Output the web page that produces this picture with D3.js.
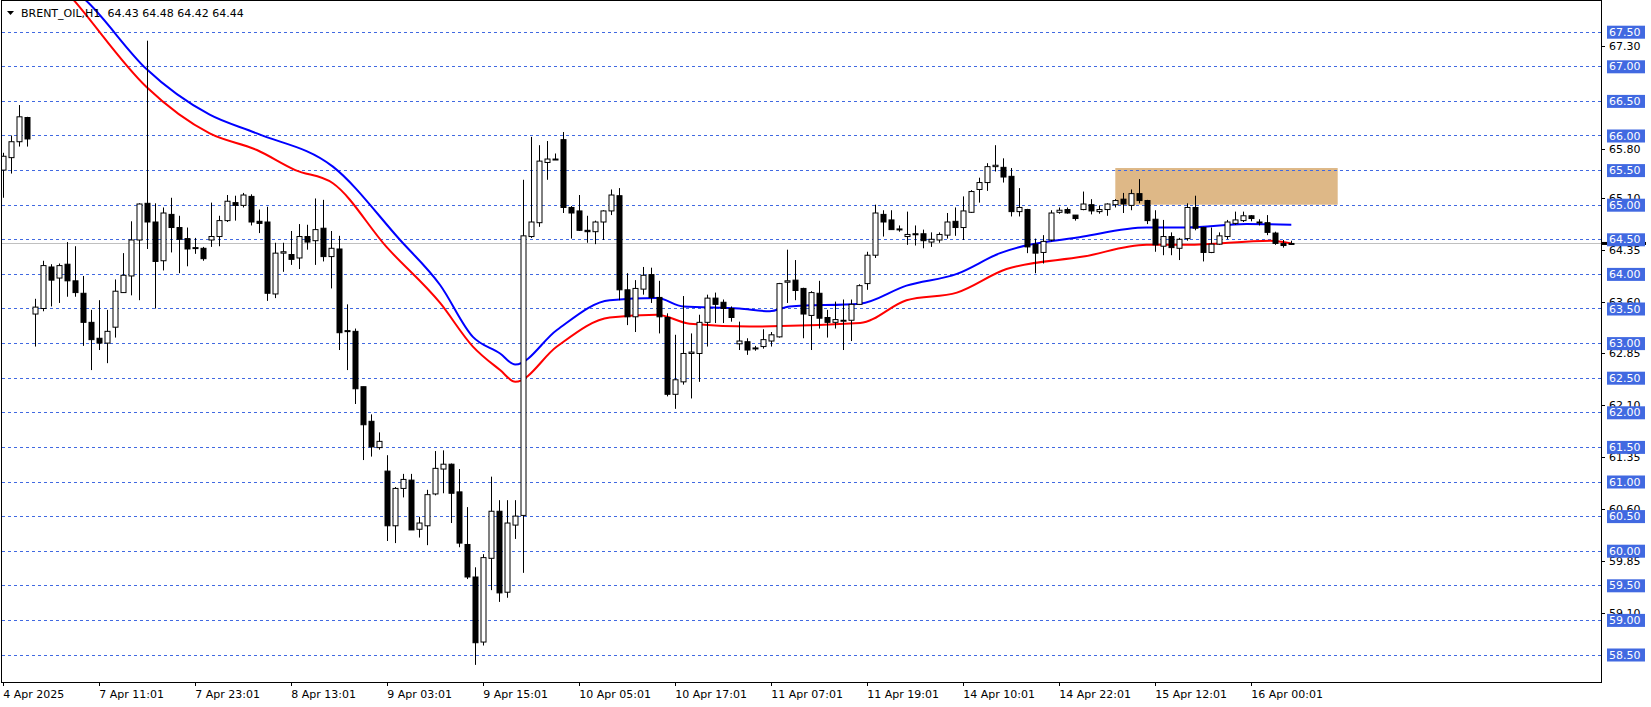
<!DOCTYPE html>
<html>
<head>
<meta charset="utf-8">
<script src="https://cdn.jsdelivr.net/npm/d3@7"></script>
<style>
  body { margin: 0; background: #fff; }
  svg { display: block; font-family: "DejaVu Sans", sans-serif; }
</style>
</head>
<body>
<div id="chart"></div>
<script>
    // hourly bars
    const opens = [65.5,65.68,65.91,66.26,63.42,63.5,64.1,63.94,64.14,63.9,63.72,63.3,63.07,63.0,63.23,63.73,63.97,64.49,65.02,64.75,
        64.19,64.86,64.67,64.51,64.38,64.37,64.49,64.54,64.77,65.03,64.99,65.12,64.76,64.75,63.71,64.3,64.28,64.23,64.54,64.48,
        64.66,64.25,64.36,63.18,63.17,62.37,61.87,61.49,61.15,60.36,60.9,61.02,60.31,60.36,60.82,61.18,61.25,60.85,60.09,59.62,
        58.68,59.89,60.57,59.4,60.37,60.51,64.54,64.74,65.61,65.66,65.94,64.96,64.91,64.63,64.61,64.75,64.91,65.13,63.77,63.38,
        63.78,63.99,63.66,63.37,62.26,62.44,62.85,62.85,63.3,63.65,63.59,63.5,62.99,63.02,62.93,62.95,63.03,63.09,63.88,63.91,
        63.79,63.4,63.72,63.37,63.3,63.33,63.33,63.56,63.86,64.27,64.86,64.78,64.65,64.54,64.58,64.58,64.46,64.49,64.56,64.76,
        64.67,64.89,65.22,65.32,65.55,65.54,65.41,64.9,64.93,64.43,64.31,64.49,64.89,64.93,64.85,64.93,65.0,64.9,64.93,65.0,
        65.08,64.99,65.16,65.06,64.79,64.4,64.54,64.37,64.51,64.96,64.67,64.31,64.43,64.54,64.73,64.77,64.84,64.75,64.74,64.59,
        64.44,64.43];
    const highs = [65.75,66.0,66.44,66.27,63.64,64.19,64.14,64.15,64.46,64.4,63.97,63.48,63.62,63.48,63.92,64.3,64.76,65.02,67.37,65.02,
        64.96,65.1,64.84,64.67,64.52,64.39,65.03,64.84,65.14,65.13,65.17,65.15,64.93,64.97,64.45,64.45,64.62,64.72,64.71,65.09,
        65.07,64.62,64.55,63.56,63.21,62.37,61.97,61.71,61.38,60.92,61.11,61.11,60.49,60.88,61.44,61.45,61.26,61.18,60.63,59.76,
        59.95,61.07,60.73,60.73,60.73,65.36,65.98,65.86,65.92,65.74,66.05,64.98,65.14,64.84,64.77,64.92,65.22,65.24,64.01,63.91,
        64.1,64.09,63.9,63.43,63.12,63.68,63.14,63.41,63.7,63.73,63.63,63.53,63.31,63.07,62.96,63.2,63.16,63.87,64.35,64.2,
        63.8,63.75,63.9,63.48,63.6,63.63,63.63,63.85,64.32,65.0,64.92,64.92,64.7,64.9,64.7,64.64,64.6,64.6,64.88,64.96,
        65.12,65.21,65.39,65.6,65.86,65.67,65.53,65.24,64.94,64.51,64.56,64.92,64.96,64.96,64.85,65.19,65.08,64.99,65.02,65.08,
        65.17,65.22,65.37,65.07,64.92,64.78,64.6,64.52,65.02,65.13,64.68,64.67,64.6,64.78,64.9,64.9,64.85,64.79,64.85,64.61,
        64.49,64.48];
    const lows = [65.1,65.45,65.84,65.84,62.95,63.46,63.53,63.58,63.67,63.67,62.96,62.61,62.9,62.71,63.08,63.73,63.69,63.62,64.36,63.5,
        64.05,64.31,64.01,64.11,64.29,64.19,64.39,64.4,64.75,64.77,64.96,64.7,64.59,63.61,63.65,64.03,64.13,64.07,64.35,64.13,
        64.18,63.79,62.9,62.61,62.12,61.31,61.36,61.46,60.14,60.11,60.77,60.3,60.19,60.08,60.8,60.83,60.4,60.05,59.59,58.35,
        58.63,59.43,59.26,59.32,60.17,59.68,64.52,64.68,65.36,65.65,64.88,64.51,64.62,64.45,64.43,64.49,64.85,63.62,63.26,63.16,
        63.7,63.58,63.14,62.23,62.05,62.4,62.2,62.44,62.95,63.29,63.29,63.31,62.9,62.83,62.89,62.92,62.95,63.08,63.58,63.62,
        63.07,62.9,63.21,63.08,63.21,62.9,63.03,63.55,63.77,64.23,64.54,64.64,64.61,64.42,64.41,64.37,64.39,64.45,64.51,64.55,
        64.49,64.88,65.03,65.2,65.48,65.32,64.83,64.83,64.3,64.01,64.15,64.47,64.87,64.87,64.77,64.92,64.86,64.87,64.84,64.96,
        64.88,64.92,65.02,64.72,64.32,64.27,64.27,64.2,64.48,64.63,64.18,64.3,64.42,64.5,64.71,64.75,64.76,64.7,64.56,64.42,
        64.38,64.42];
    const closes = [65.7,65.91,66.27,65.95,63.52,64.12,63.91,64.12,63.9,63.73,63.3,63.05,63.0,63.17,63.75,63.98,64.49,65.01,64.75,64.18,
        64.88,64.67,64.5,64.36,64.38,64.22,64.54,64.77,65.05,64.99,65.14,64.75,64.73,63.72,64.3,64.32,64.21,64.54,64.46,64.64,
        64.25,64.37,63.15,63.17,62.34,61.82,61.5,61.58,60.36,60.9,61.03,60.3,60.4,60.81,61.19,61.25,60.83,60.11,59.62,58.67,
        59.9,60.57,59.39,60.4,60.5,64.55,64.75,65.63,65.66,65.66,64.96,64.88,64.63,64.61,64.75,64.91,65.14,63.77,63.38,63.79,
        63.98,63.66,63.38,62.26,62.47,62.85,62.87,63.3,63.65,63.56,63.5,63.37,63.03,62.9,62.92,63.05,63.12,63.86,63.9,63.76,
        63.42,63.73,63.36,63.3,63.34,63.33,63.56,63.83,64.27,64.88,64.75,64.64,64.65,64.57,64.57,64.48,64.5,64.57,64.75,64.67,
        64.91,65.19,65.32,65.55,65.57,65.4,64.9,64.96,64.39,64.3,64.47,64.88,64.92,64.88,64.8,65.01,64.91,64.93,65.01,65.06,
        65.01,65.16,65.06,64.77,64.42,64.54,64.38,64.5,64.96,64.66,64.31,64.43,64.55,64.75,64.78,64.84,64.8,64.75,64.6,64.44,
        64.41,64.44];

    // moving averages, sampled along the drawn lines: [bar index, price]
    const maBlue = [[8,68.2],[10.7,67.91],[17.9,66.96],[25.8,66.3],[31.7,66.03],[41.2,65.55],[49.6,64.49],[54.6,63.84],[58.7,63.09],
        [62.1,62.85],[64,62.69],[69.2,63.19],[75.8,63.62],[81.7,63.65],[85,63.53],[92,63.5],[95.8,63.46],[98.3,63.53],
        [107.1,63.57],[112.9,63.83],[119.2,64.0],[124.6,64.3],[135,64.54],[142.9,64.67],[147.9,64.67],[155.4,64.72],[161,64.71]];
    const maRed = [[7,68.2],[9,67.93],[17.9,66.7],[25.8,66.03],[31.7,65.79],[36.5,65.5],[41.2,65.31],[47.9,64.39],[54.6,63.58],
        [58.7,62.95],[62.1,62.61],[64,62.44],[69.2,62.95],[75.8,63.37],[81.7,63.41],[85.8,63.28],[93.3,63.24],[107.1,63.29],
        [112.9,63.62],[119.2,63.73],[125.4,64.07],[135,64.25],[142.9,64.42],[147.9,64.42],[158.4,64.48],[161,64.44]];

    const gridPrices = [67.5,67,66.5,66,65.5,65,64.5,64,63.5,63,62.5,62,61.5,61,60.5,60,59.5,59,58.5];
    const scalePrices = [67.30,65.80,65.10,64.35,63.60,62.85,62.10,61.35,60.60,59.85,59.10];
    const timeLabels = ["4 Apr 2025","7 Apr 11:01","7 Apr 23:01","8 Apr 13:01","9 Apr 03:01","9 Apr 15:01","10 Apr 05:01",
        "10 Apr 17:01","11 Apr 07:01","11 Apr 19:01","14 Apr 10:01","14 Apr 22:01","15 Apr 12:01","16 Apr 00:01"];
    const zone = { from: 139, to: 166.8, top: 65.53, bottom: 65.0 };
    const lastPrice = 64.44;

    let width = 1651, height = 707;
    const plotLeft = 2, plotRight = 1601, plotTop = 1, plotBottom = 682;

    const x = d3.scaleLinear().domain([0, 1]).range([3.3, 11.3]);
    const y = d3.scaleLinear().domain([58.5, 67.5]).range([654.5, 31.7]);

    const svg = d3.select("#chart").append("svg")
        .attr("width", width)
        .attr("height", height);

    svg.append("defs").append("clipPath").attr("id", "plot")
        .append("rect")
        .attr("x", plotLeft).attr("y", plotTop)
        .attr("width", plotRight - plotLeft).attr("height", plotBottom - plotTop);

    const g = svg.append("g").attr("clip-path", "url(#plot)");

    // supply zone
    g.append("rect")
        .attr("x", x(zone.from)).attr("y", y(zone.top))
        .attr("width", x(zone.to) - x(zone.from))
        .attr("height", y(zone.bottom) - y(zone.top))
        .attr("fill", "#DEB887");

    g.append("g").selectAll("line")
        .data(gridPrices)
        .join("line")
        .attr("x1", plotLeft).attr("x2", plotRight)
        .attr("y1", d => Math.round(y(d)) + 0.5).attr("y2", d => Math.round(y(d)) + 0.5)
        .attr("stroke", "#4169E1")
        .attr("stroke-dasharray", "3,3");

    g.append("line")
        .attr("x1", plotLeft).attr("x2", plotRight)
        .attr("y1", Math.round(y(lastPrice)) + 0.5).attr("y2", Math.round(y(lastPrice)) + 0.5)
        .attr("stroke", "#C0C0C0");

    const line = d3.line()
        .x(d => x(d[0]))
        .y(d => y(d[1]))
        .curve(d3.curveMonotoneX);

    g.append("path").datum(maRed)
        .attr("d", line).attr("fill", "none")
        .attr("stroke", "#FF0000").attr("stroke-width", 2);
    g.append("path").datum(maBlue)
        .attr("d", line).attr("fill", "none")
        .attr("stroke", "#0000FF").attr("stroke-width", 2);

    const bars = d3.range(opens.length);
    const candles = g.append("g").selectAll("g")
        .data(bars)
        .join("g");

    candles.append("line")
        .attr("x1", i => Math.round(x(i)) + 0.5).attr("x2", i => Math.round(x(i)) + 0.5)
        .attr("y1", i => y(highs[i])).attr("y2", i => y(lows[i]))
        .attr("stroke", "#000");

    candles.append("rect")
        .attr("x", i => Math.round(x(i)) - 2)
        .attr("width", 5)
        .attr("y", i => y(Math.max(opens[i], closes[i])))
        .attr("height", i => Math.max(1, Math.abs(y(opens[i]) - y(closes[i]))))
        .attr("fill", i => closes[i] >= opens[i] ? "#fff" : "#000")
        .attr("stroke", "#000")
        .attr("stroke-width", 1);

    // frame
    svg.append("rect")
        .attr("x", plotLeft - 0.5).attr("y", plotTop - 0.5)
        .attr("width", plotRight - plotLeft + 1).attr("height", plotBottom - plotTop + 1)
        .attr("fill", "none").attr("stroke", "#000");

    // price scale
    svg.append("g").selectAll("text")
        .data(scalePrices)
        .join("text")
        .attr("x", 1609).attr("y", d => y(d) + 4)
        .attr("font-size", 11)
        .text(d => d.toFixed(2));
    svg.append("g").selectAll("line")
        .data(scalePrices)
        .join("line")
        .attr("x1", plotRight).attr("x2", plotRight + 4)
        .attr("y1", d => Math.round(y(d)) + 0.5).attr("y2", d => Math.round(y(d)) + 0.5)
        .attr("stroke", "#000");

    svg.append("rect")
        .attr("x", plotRight + 1).attr("y", y(lastPrice) - 1.5)
        .attr("width", 44).attr("height", 3).attr("fill", "#000");

    const labels = svg.append("g").selectAll("g")
        .data(gridPrices)
        .join("g");
    labels.append("rect")
        .attr("x", 1607).attr("y", d => y(d) - 6)
        .attr("width", 38).attr("height", 13)
        .attr("fill", "#4169E1");
    labels.append("text")
        .attr("x", 1609).attr("y", d => y(d) + 4)
        .attr("font-size", 11).attr("fill", "#fff")
        .text(d => d.toFixed(2));

    // time scale
    const tickIdx = timeLabels.map((t, k) => k * 12);
    svg.append("g").selectAll("line")
        .data(tickIdx)
        .join("line")
        .attr("x1", i => Math.round(x(i)) + 0.5).attr("x2", i => Math.round(x(i)) + 0.5)
        .attr("y1", plotBottom).attr("y2", plotBottom + 4)
        .attr("stroke", "#000");
    svg.append("g").selectAll("text")
        .data(timeLabels)
        .join("text")
        .attr("x", (t, k) => x(k * 12))
        .attr("y", 698)
        .attr("font-size", 11)
        .text(t => t);

    // header
    svg.append("path")
        .attr("d", "M7,11 L14,11 L10.5,15 Z")
        .attr("fill", "#000");
    svg.append("text")
        .attr("x", 21).attr("y", 17)
        .attr("font-size", 11)
        .attr("xml:space", "preserve")
        .text("BRENT_OIL,H1  64.43 64.48 64.42 64.44");
</script>
</body>
</html>
